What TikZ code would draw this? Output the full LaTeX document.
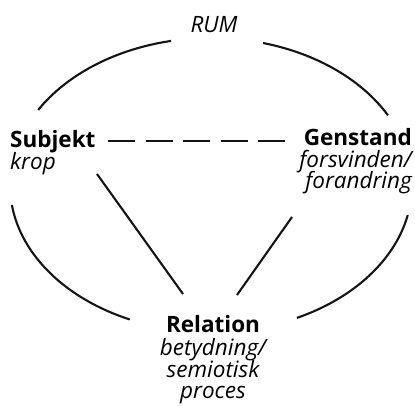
\documentclass[tikz,border=0pt]{standalone}
\usepackage{fontspec}
\setmainfont{Open Sans}
\begin{document}
\begin{tikzpicture}[x=1pt,y=1pt,
  lbl/.style={inner sep=0pt, font=\fontsize{22.5}{25}\selectfont},
  head/.style={lbl, font=\fontsize{22.5}{25}\selectfont\bfseries},
  sub/.style={lbl, font=\fontsize{22.5}{25}\selectfont\itshape},
  ln/.style={line width=2.1pt, black!92}]
\useasboundingbox (0,0) rectangle (415,405);
% centre of the ellipse
\coordinate (c) at (211,220);
% labels
\node[sub, anchor=base] (rum) at (214,372) {RUM};
\node[head, anchor=base west] (subj) at (10,257) {Subjekt};
\node[sub, anchor=base west] (subjsub) at (10,236) {krop};
\node[head, anchor=base east] (gen) at (412,259) {Genstand};
\node[sub, anchor=base east] (gen2) at (412,237) {forsvinden/};
\node[sub, anchor=base east] (gen3) at (412,216) {forandring};
\node[head, anchor=base] (rel) at (213,73) {Relation};
\node[sub, anchor=base] (rel2) at (213,50) {betydning/};
\node[sub, anchor=base] (rel3) at (213,28) {semiotisk};
\node[sub, anchor=base] (rel4) at (213,7) {proces};
% ellipse pieces
\draw[ln] (c) ++(149.3:201 and 147) arc[start angle=149.3, end angle=101.5, x radius=201, y radius=147];
\draw[ln] (c) ++(75:201 and 147) arc[start angle=75, end angle=28.3, x radius=201, y radius=147];
\draw[ln] (c) ++(187.8:201 and 147) arc[start angle=187.8, end angle=246.2, x radius=201, y radius=147];
\draw[ln] (c) ++(295.3:201 and 147) arc[start angle=295.3, end angle=348.2, x radius=201, y radius=147];
% connectors
\coordinate (sd) at (108,264);
\coordinate (gd) at (285,264);
\draw[ln, dash pattern=on 27pt off 10.5pt] (sd) -- (gd);
\coordinate (s1) at (97,231);
\coordinate (r1) at (183,111);
\draw[ln] (s1) -- (r1);
\coordinate (g1) at (292,188);
\coordinate (r2) at (237,110);
\draw[ln] (g1) -- (r2);
\end{tikzpicture}
\end{document}
